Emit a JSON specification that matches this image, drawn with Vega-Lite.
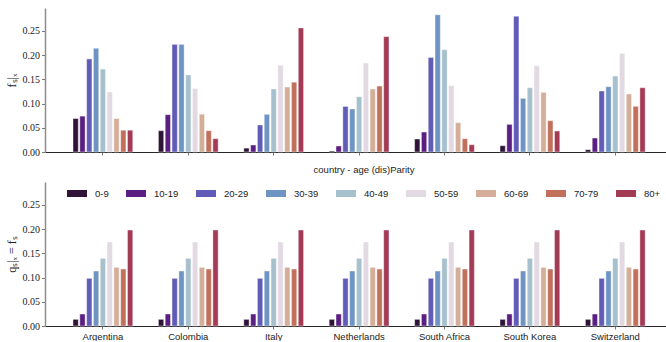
{
  "$schema": "https://vega.github.io/schema/vega-lite/v6.json",
  "padding": {"left": 5, "top": 8, "right": 0, "bottom": 0},
  "autosize": {"type": "pad"},
  "bounds": "flush",
  "spacing": 30,
  "config": {
    "view": {"stroke": null},
    "axisX": {"domainColor": "#262626", "domainWidth": 1.2, "tickColor": "#777777", "tickSize": 3, "tickWidth": 1, "grid": false, "labelFont": "Liberation Sans", "labelFontSize": 9.5, "labelColor": "#222222", "labelPadding": 2, "labelAngle": 0},
    "axisY": {"domainColor": "#8c8c8c", "domainWidth": 1.5, "tickColor": "#777777", "tickSize": 3.5, "grid": false, "labelFont": "Liberation Serif", "labelFontSize": 10, "labelColor": "#222222", "labelPadding": 2, "titleFont": "Liberation Serif", "titleFontSize": 12, "titleFontWeight": "normal", "titleColor": "#222222", "titlePadding": 4}
  },
  "datasets": {
    "cond": [
      {"country": "Argentina", "age": "0-9", "f": 0.069},
      {"country": "Argentina", "age": "10-19", "f": 0.074},
      {"country": "Argentina", "age": "20-29", "f": 0.192},
      {"country": "Argentina", "age": "30-39", "f": 0.214},
      {"country": "Argentina", "age": "40-49", "f": 0.171},
      {"country": "Argentina", "age": "50-59", "f": 0.124},
      {"country": "Argentina", "age": "60-69", "f": 0.069},
      {"country": "Argentina", "age": "70-79", "f": 0.045},
      {"country": "Argentina", "age": "80+", "f": 0.045},
      {"country": "Colombia", "age": "0-9", "f": 0.044},
      {"country": "Colombia", "age": "10-19", "f": 0.077},
      {"country": "Colombia", "age": "20-29", "f": 0.222},
      {"country": "Colombia", "age": "30-39", "f": 0.222},
      {"country": "Colombia", "age": "40-49", "f": 0.159},
      {"country": "Colombia", "age": "50-59", "f": 0.131},
      {"country": "Colombia", "age": "60-69", "f": 0.078},
      {"country": "Colombia", "age": "70-79", "f": 0.044},
      {"country": "Colombia", "age": "80+", "f": 0.0275},
      {"country": "Italy", "age": "0-9", "f": 0.008},
      {"country": "Italy", "age": "10-19", "f": 0.0144},
      {"country": "Italy", "age": "20-29", "f": 0.0557},
      {"country": "Italy", "age": "30-39", "f": 0.0777},
      {"country": "Italy", "age": "40-49", "f": 0.130},
      {"country": "Italy", "age": "50-59", "f": 0.179},
      {"country": "Italy", "age": "60-69", "f": 0.134},
      {"country": "Italy", "age": "70-79", "f": 0.144},
      {"country": "Italy", "age": "80+", "f": 0.256},
      {"country": "Netherlands", "age": "0-9", "f": 0.002},
      {"country": "Netherlands", "age": "10-19", "f": 0.0124},
      {"country": "Netherlands", "age": "20-29", "f": 0.094},
      {"country": "Netherlands", "age": "30-39", "f": 0.0887},
      {"country": "Netherlands", "age": "40-49", "f": 0.114},
      {"country": "Netherlands", "age": "50-59", "f": 0.1835},
      {"country": "Netherlands", "age": "60-69", "f": 0.130},
      {"country": "Netherlands", "age": "70-79", "f": 0.136},
      {"country": "Netherlands", "age": "80+", "f": 0.238},
      {"country": "South Africa", "age": "0-9", "f": 0.0268},
      {"country": "South Africa", "age": "10-19", "f": 0.0412},
      {"country": "South Africa", "age": "20-29", "f": 0.195},
      {"country": "South Africa", "age": "30-39", "f": 0.283},
      {"country": "South Africa", "age": "40-49", "f": 0.211},
      {"country": "South Africa", "age": "50-59", "f": 0.137},
      {"country": "South Africa", "age": "60-69", "f": 0.0605},
      {"country": "South Africa", "age": "70-79", "f": 0.0275},
      {"country": "South Africa", "age": "80+", "f": 0.015},
      {"country": "South Korea", "age": "0-9", "f": 0.013},
      {"country": "South Korea", "age": "10-19", "f": 0.057},
      {"country": "South Korea", "age": "20-29", "f": 0.280},
      {"country": "South Korea", "age": "30-39", "f": 0.1107},
      {"country": "South Korea", "age": "40-49", "f": 0.1326},
      {"country": "South Korea", "age": "50-59", "f": 0.178},
      {"country": "South Korea", "age": "60-69", "f": 0.123},
      {"country": "South Korea", "age": "70-79", "f": 0.0646},
      {"country": "South Korea", "age": "80+", "f": 0.0433},
      {"country": "Switzerland", "age": "0-9", "f": 0.0048},
      {"country": "Switzerland", "age": "10-19", "f": 0.0289},
      {"country": "Switzerland", "age": "20-29", "f": 0.1258},
      {"country": "Switzerland", "age": "30-39", "f": 0.1347},
      {"country": "Switzerland", "age": "40-49", "f": 0.1567},
      {"country": "Switzerland", "age": "50-59", "f": 0.2034},
      {"country": "Switzerland", "age": "60-69", "f": 0.1196},
      {"country": "Switzerland", "age": "70-79", "f": 0.0942},
      {"country": "Switzerland", "age": "80+", "f": 0.1326}
    ],
    "marg": [
      {"country": "Argentina", "age": "0-9", "q": 0.0137},
      {"country": "Argentina", "age": "10-19", "q": 0.0247},
      {"country": "Argentina", "age": "20-29", "q": 0.0983},
      {"country": "Argentina", "age": "30-39", "q": 0.1134},
      {"country": "Argentina", "age": "40-49", "q": 0.1395},
      {"country": "Argentina", "age": "50-59", "q": 0.1732},
      {"country": "Argentina", "age": "60-69", "q": 0.121},
      {"country": "Argentina", "age": "70-79", "q": 0.1175},
      {"country": "Argentina", "age": "80+", "q": 0.198},
      {"country": "Colombia", "age": "0-9", "q": 0.0137},
      {"country": "Colombia", "age": "10-19", "q": 0.0247},
      {"country": "Colombia", "age": "20-29", "q": 0.0983},
      {"country": "Colombia", "age": "30-39", "q": 0.1134},
      {"country": "Colombia", "age": "40-49", "q": 0.1395},
      {"country": "Colombia", "age": "50-59", "q": 0.1732},
      {"country": "Colombia", "age": "60-69", "q": 0.121},
      {"country": "Colombia", "age": "70-79", "q": 0.1175},
      {"country": "Colombia", "age": "80+", "q": 0.198},
      {"country": "Italy", "age": "0-9", "q": 0.0137},
      {"country": "Italy", "age": "10-19", "q": 0.0247},
      {"country": "Italy", "age": "20-29", "q": 0.0983},
      {"country": "Italy", "age": "30-39", "q": 0.1134},
      {"country": "Italy", "age": "40-49", "q": 0.1395},
      {"country": "Italy", "age": "50-59", "q": 0.1732},
      {"country": "Italy", "age": "60-69", "q": 0.121},
      {"country": "Italy", "age": "70-79", "q": 0.1175},
      {"country": "Italy", "age": "80+", "q": 0.198},
      {"country": "Netherlands", "age": "0-9", "q": 0.0137},
      {"country": "Netherlands", "age": "10-19", "q": 0.0247},
      {"country": "Netherlands", "age": "20-29", "q": 0.0983},
      {"country": "Netherlands", "age": "30-39", "q": 0.1134},
      {"country": "Netherlands", "age": "40-49", "q": 0.1395},
      {"country": "Netherlands", "age": "50-59", "q": 0.1732},
      {"country": "Netherlands", "age": "60-69", "q": 0.121},
      {"country": "Netherlands", "age": "70-79", "q": 0.1175},
      {"country": "Netherlands", "age": "80+", "q": 0.198},
      {"country": "South Africa", "age": "0-9", "q": 0.0137},
      {"country": "South Africa", "age": "10-19", "q": 0.0247},
      {"country": "South Africa", "age": "20-29", "q": 0.0983},
      {"country": "South Africa", "age": "30-39", "q": 0.1134},
      {"country": "South Africa", "age": "40-49", "q": 0.1395},
      {"country": "South Africa", "age": "50-59", "q": 0.1732},
      {"country": "South Africa", "age": "60-69", "q": 0.121},
      {"country": "South Africa", "age": "70-79", "q": 0.1175},
      {"country": "South Africa", "age": "80+", "q": 0.198},
      {"country": "South Korea", "age": "0-9", "q": 0.0137},
      {"country": "South Korea", "age": "10-19", "q": 0.0247},
      {"country": "South Korea", "age": "20-29", "q": 0.0983},
      {"country": "South Korea", "age": "30-39", "q": 0.1134},
      {"country": "South Korea", "age": "40-49", "q": 0.1395},
      {"country": "South Korea", "age": "50-59", "q": 0.1732},
      {"country": "South Korea", "age": "60-69", "q": 0.121},
      {"country": "South Korea", "age": "70-79", "q": 0.1175},
      {"country": "South Korea", "age": "80+", "q": 0.198},
      {"country": "Switzerland", "age": "0-9", "q": 0.0137},
      {"country": "Switzerland", "age": "10-19", "q": 0.0247},
      {"country": "Switzerland", "age": "20-29", "q": 0.0983},
      {"country": "Switzerland", "age": "30-39", "q": 0.1134},
      {"country": "Switzerland", "age": "40-49", "q": 0.1395},
      {"country": "Switzerland", "age": "50-59", "q": 0.1732},
      {"country": "Switzerland", "age": "60-69", "q": 0.121},
      {"country": "Switzerland", "age": "70-79", "q": 0.1175},
      {"country": "Switzerland", "age": "80+", "q": 0.198}
    ]
  },
  "vconcat": [
    {
      "width": 623,
      "height": 144,
      "data": {"name": "cond"},
      "mark": {"type": "bar", "stroke": "white", "strokeWidth": 0.6, "strokeOpacity": 0.7},
      "encoding": {
        "x": {"field": "country", "type": "nominal", "sort": null,
          "scale": {"paddingInner": 0.3, "paddingOuter": 0.2975, "align": 0.551},
          "axis": {"labels": false, "title": null}},
        "xOffset": {"field": "age", "type": "nominal", "sort": ["0-9", "10-19", "20-29", "30-39", "40-49", "50-59", "60-69", "70-79", "80+"],
          "scale": {"paddingInner": 0.22, "paddingOuter": 0}},
        "y": {"field": "f", "type": "quantitative",
          "scale": {"domain": [0, 0.297], "nice": false},
          "axis": {"title": "fₛ|ₓ", "values": [0, 0.05, 0.1, 0.15, 0.2, 0.25], "format": ".2f"}},
        "color": {"field": "age", "type": "nominal",
          "scale": {"domain": ["0-9", "10-19", "20-29", "30-39", "40-49", "50-59", "60-69", "70-79", "80+"],
            "range": ["#301437", "#5a1f81", "#5f5bb6", "#6e94c4", "#a6c0cd", "#e2d9e2", "#d4ae98", "#c1705b", "#a43b56"]},
          "legend": null}
      }
    },
    {
      "width": 623,
      "height": 144,
      "data": {"name": "marg"},
      "mark": {"type": "bar", "stroke": "white", "strokeWidth": 0.6, "strokeOpacity": 0.7},
      "encoding": {
        "x": {"field": "country", "type": "nominal", "sort": null,
          "scale": {"paddingInner": 0.3, "paddingOuter": 0.2975, "align": 0.551},
          "axis": {"title": null}},
        "xOffset": {"field": "age", "type": "nominal", "sort": ["0-9", "10-19", "20-29", "30-39", "40-49", "50-59", "60-69", "70-79", "80+"],
          "scale": {"paddingInner": 0.22, "paddingOuter": 0}},
        "y": {"field": "q", "type": "quantitative",
          "scale": {"domain": [0, 0.297], "nice": false},
          "axis": {"title": "qₛ|ₓ = fₛ", "values": [0, 0.05, 0.1, 0.15, 0.2, 0.25], "format": ".2f"}},
        "color": {"field": "age", "type": "nominal",
          "scale": {"domain": ["0-9", "10-19", "20-29", "30-39", "40-49", "50-59", "60-69", "70-79", "80+"],
            "range": ["#301437", "#5a1f81", "#5f5bb6", "#6e94c4", "#a6c0cd", "#e2d9e2", "#d4ae98", "#c1705b", "#a43b56"]},
          "legend": {"orient": "none", "legendX": 22, "legendY": -17, "direction": "horizontal", "columns": 9, "gridAlign": "none",
            "title": "country - age (dis)Parity", "titleAnchor": "middle", "titleOrient": "top",
            "titleFont": "Liberation Sans", "titleFontSize": 9.5, "titleFontWeight": "normal", "titleColor": "#222222", "titlePadding": 9,
            "symbolType": "M-1,-0.35L1,-0.35L1,0.35L-1,0.35Z", "symbolSize": 400, "symbolStrokeWidth": 0, "symbolOpacity": 1,
            "labelFont": "Liberation Sans", "labelFontSize": 9.5, "labelColor": "#222222", "labelOffset": 8, "columnPadding": 17}}
      }
    }
  ],
  "resolve": {"legend": {"color": "independent"}}
}
